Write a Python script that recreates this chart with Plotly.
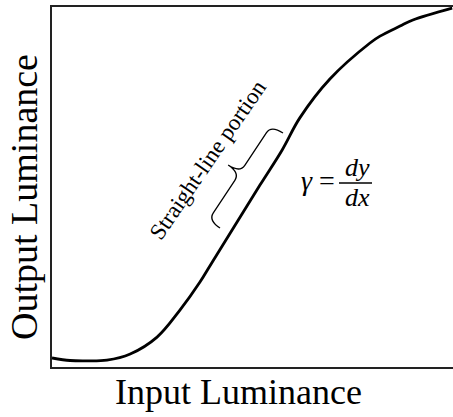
import numpy as np
import plotly.graph_objects as go

# Characteristic curve (normalized input / output luminance)
input_lum = [0.0, 0.045, 0.082, 0.137, 0.195, 0.262, 0.319, 0.369, 0.401, 0.519, 0.574, 0.618,
             0.693, 0.793, 0.818, 0.868, 0.900, 0.998]
output_lum = [0.025, 0.018, 0.017, 0.019, 0.036, 0.083, 0.158, 0.236, 0.294, 0.506, 0.603, 0.692,
              0.800, 0.900, 0.919, 0.947, 0.964, 0.997]

# Ends of the straight-line portion brace (data coords)
brace_start = (0.419, 0.386)
brace_end = (0.576, 0.650)

W, H = 453, 417
ML, MR, MT, MB = 52, 0, 7, 50
PW, PH = W - ML - MR, H - MT - MB
FONT = "Liberation Serif, Times New Roman, serif"


def to_px(x, y):
    return np.array([x * PW, -y * PH])


def to_data(p):
    return p[0] / PW, -p[1] / PH


def brace_path(a, b, h=14.0, q=9.0):
    A = to_px(*a)
    B = to_px(*b)
    d = B - A
    L = np.linalg.norm(d)
    u = d / L
    n = np.array([u[1], -u[0]])
    if n[0] > 0:
        n = -n
    M = (A + B) / 2
    pts = [
        ("M", [A]),
        ("Q", [A + n * h, A + u * q + n * h]),
        ("L", [M - u * q + n * h]),
        ("Q", [M + n * h, M + n * 2 * h]),
        ("Q", [M + n * h, M + u * q + n * h]),
        ("L", [B - u * q + n * h]),
        ("Q", [B + n * h, B]),
    ]
    s = ""
    for cmd, ps in pts:
        s += cmd + " " + " ".join("%.5f,%.5f" % to_data(p) for p in ps) + " "
    return s.strip()


def paper(px, py):
    return (px - ML) / PW, (H - MB - py) / PH


def label(text, px, py, size, angle=0):
    x0, y0 = paper(px, py)
    return dict(text=text, x=x0, y=y0, xref="paper", yref="paper", xanchor="center",
                yanchor="middle", showarrow=False, textangle=angle,
                font=dict(family=FONT, size=size, color="black"))


fig = go.Figure()
fig.add_trace(go.Scatter(
    x=input_lum, y=output_lum, mode="lines",
    line=dict(color="black", width=2.8, shape="spline", smoothing=1.0),
    cliponaxis=False, hoverinfo="skip", showlegend=False,
))

fig.add_shape(type="path", path=brace_path(brace_start, brace_end), xref="x", yref="y",
              line=dict(color="black", width=1.3))

annos = [
    label("Input Luminance", 238.5, 392, 36),
    label("Output Luminance", 24, 197, 38, -90),
    label("Straight-line portion", 208, 159.5, 23, -55.5),
    label("<i>γ</i> =", 318, 181, 28),
    label("<i>dy</i>", 357, 167, 26),
    label("<i>dx</i>", 357, 197, 26),
]
fx0, fy = paper(339, 183)
fx1, _ = paper(372, 183)
fig.add_shape(type="line", x0=fx0, x1=fx1, y0=fy, y1=fy, xref="paper", yref="paper",
              line=dict(color="black", width=1.5))

fig.update_layout(
    width=W, height=H,
    margin=dict(l=ML, r=MR, t=MT, b=MB, autoexpand=False),
    paper_bgcolor="white", plot_bgcolor="white",
    annotations=annos,
    xaxis=dict(range=[0, 1], showgrid=False, zeroline=False, showticklabels=False, ticks="",
               showline=True, linecolor="#222", linewidth=2, mirror=True, fixedrange=True),
    yaxis=dict(range=[0, 1], showgrid=False, zeroline=False, showticklabels=False, ticks="",
               showline=True, linecolor="#222", linewidth=2, mirror=False, fixedrange=True),
)

fig.write_html(
    "out.html",
    config={"responsive": False, "displayModeBar": False},
    post_script="document.body.style.margin='0';document.body.style.overflow='hidden';",
)
